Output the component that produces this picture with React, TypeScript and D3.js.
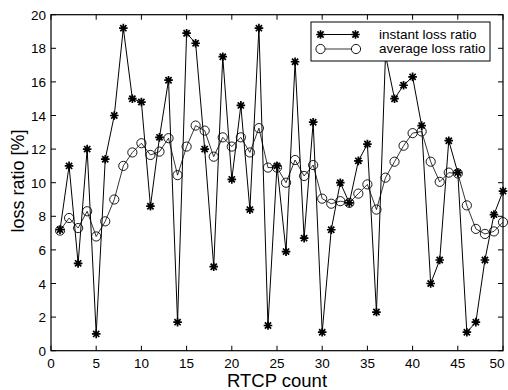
import React from "react";
import * as d3 from "d3";

const counts: number[] = d3.range(1, 51);
const instantLoss: number[] = [
  7.2, 11.0, 5.2, 12.0, 1.0, 11.4, 14.0, 19.2, 15.0, 14.8,
  8.6, 12.7, 16.1, 1.7, 18.9, 18.3, 12.0, 5.0, 17.5, 10.2,
  14.6, 8.4, 19.2, 1.5, 11.0, 5.9, 17.2, 6.7, 13.6, 1.1,
  7.2, 10.0, 8.8, 11.3, 12.3, 2.3, 17.6, 15.0, 15.8, 16.3,
  13.4, 4.0, 5.4, 12.5, 10.6, 1.1, 1.7, 5.4, 8.1, 9.5,
];
const averageLoss: number[] = [
  7.15, 7.9, 7.3, 8.3, 6.8, 7.7, 9.0, 11.0, 11.8, 12.35,
  11.65, 11.85, 12.65, 10.45, 12.15, 13.4, 13.1, 11.55, 12.7, 12.15,
  12.7, 11.8, 13.25, 10.9, 10.9, 10.0, 11.35, 10.4, 11.05, 9.05,
  8.75, 8.9, 8.8, 9.35, 9.9, 8.4, 10.3, 11.25, 12.2, 12.95,
  13.05, 11.25, 10.05, 10.6, 10.55, 8.65, 7.25, 6.95, 7.1, 7.65,
];
const xTicks: number[] = [0, 5, 10, 15, 20, 25, 30, 35, 40, 45, 50];
const yTicks: number[] = [0, 2, 4, 6, 8, 10, 12, 14, 16, 18, 20];
const legendLabels: string[] = ["instant loss ratio", "average loss ratio"];
const xLabel = "RTCP count";
const yLabel = "loss ratio [%]";

const W = 508;
const H = 390;
const L = 51;
const R = 503;
const T = 14.7;
const B = 350.7;
const FONT = "'Liberation Sans', Arial, Helvetica, sans-serif";

function starPath(r: number): string {
  const d = r * 0.72;
  return `M${-r},0H${r}M0,${-r}V${r}M${-d},${-d}L${d},${d}M${-d},${d}L${d},${-d}`;
}

export default function App() {
  const x = d3.scaleLinear().domain([0, 50]).range([L, R]);
  const y = d3.scaleLinear().domain([0, 20]).range([B, T]);
  const line = d3
    .line<number>()
    .x((_, i) => x(counts[i]))
    .y((v) => y(v));
  const star = starPath(4.3);
  const tick = 5;

  return (
    <svg
      width={W}
      height={H}
      style={{ position: "absolute", left: 0, top: 0, background: "#fff" }}
      fontFamily={FONT}
    >
      <rect x={0} y={0} width={W} height={H} fill="#fff" />
      <path d={line(instantLoss) || ""} fill="none" stroke="#000" strokeWidth={1} />
      <path d={line(averageLoss) || ""} fill="none" stroke="#000" strokeWidth={0.8} />
      {instantLoss.map((v, i) => (
        <path
          key={"s" + i}
          d={star}
          transform={`translate(${x(counts[i])},${y(v)})`}
          stroke="#000"
          strokeWidth={1.7}
          fill="none"
        />
      ))}
      {averageLoss.map((v, i) => (
        <circle
          key={"c" + i}
          cx={x(counts[i])}
          cy={y(v)}
          r={4.6}
          fill="none"
          stroke="#000"
          strokeWidth={0.9}
        />
      ))}
      <rect x={L} y={T} width={R - L} height={B - T} fill="none" stroke="#000" strokeWidth={1.2} />
      {xTicks.map((t) => (
        <g key={"xt" + t}>
          <line x1={x(t)} x2={x(t)} y1={B} y2={B - tick} stroke="#000" />
          <line x1={x(t)} x2={x(t)} y1={T} y2={T + tick} stroke="#000" />
          <text x={Math.min(x(t), 497)} y={B + 17} fontSize={13.5} textAnchor="middle" fill="#000">
            {t}
          </text>
        </g>
      ))}
      {yTicks.map((t) => (
        <g key={"yt" + t}>
          <line x1={L} x2={L + tick} y1={y(t)} y2={y(t)} stroke="#000" />
          <line x1={R} x2={R - tick} y1={y(t)} y2={y(t)} stroke="#000" />
          <text x={L - 5} y={y(t) + 5} fontSize={13.5} textAnchor="end" fill="#000">
            {t}
          </text>
        </g>
      ))}
      <text x={277} y={387} fontSize={18.5} textAnchor="middle" fill="#000">
        {xLabel}
      </text>
      <text
        transform={`translate(24,181) rotate(-90)`}
        fontSize={18}
        textAnchor="middle"
        fill="#000"
      >
        {yLabel}
      </text>
      <g>
        <rect x={311} y={22} width={179} height={39} fill="#fff" stroke="#000" strokeWidth={1} />
        <line x1={320.5} x2={355.5} y1={34.5} y2={34.5} stroke="#000" />
        <path d={star} transform="translate(320.5,34.5)" stroke="#000" strokeWidth={1.7} fill="none" />
        <path d={star} transform="translate(355.5,34.5)" stroke="#000" strokeWidth={1.7} fill="none" />
        <line x1={320.5} x2={356} y1={49} y2={49} stroke="#000" strokeWidth={0.8} />
        <circle cx={320.5} cy={49} r={4.6} fill="#fff" stroke="#000" strokeWidth={0.9} />
        <circle cx={356} cy={49} r={4.6} fill="#fff" stroke="#000" strokeWidth={0.9} />
        <text x={379} y={38.5} fontSize={13.5} fill="#000">
          {legendLabels[0]}
        </text>
        <text x={379} y={52.5} fontSize={13.5} fill="#000">
          {legendLabels[1]}
        </text>
      </g>
    </svg>
  );
}
